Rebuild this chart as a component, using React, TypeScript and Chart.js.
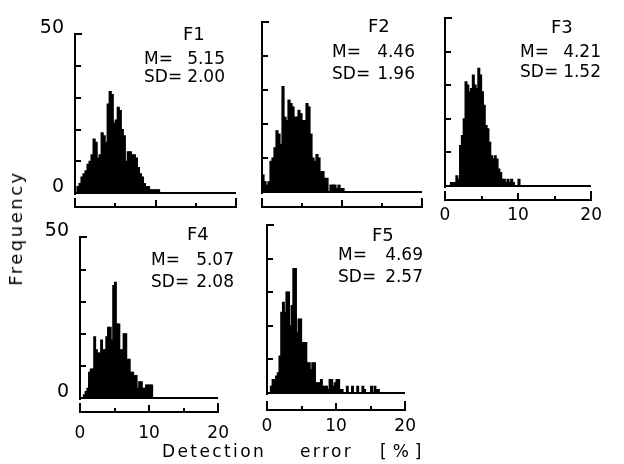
import React, { useEffect, useRef } from 'react';
import { Chart, registerables } from 'chart.js';

Chart.register(...registerables);

// ---------- data ----------
const BIN_WIDTH = 0.25; // histogram bin width in %
const PANEL_NAMES = ['F1', 'F2', 'F3', 'F4', 'F5'];
const MEANS = ['5.15', '4.46', '4.21', '5.07', '4.69'];
const SDS = ['2.00', '1.96', '1.52', '2.08', '2.57'];

// counts per 0.25 % bin, starting at 0
const F1_COUNTS = [0, 2, 3, 5, 6, 7, 9, 10, 12, 17, 16, 11, 12, 19, 18, 16, 28, 32, 31, 22, 23, 27, 26, 20, 18, 10, 13, 13, 12, 12, 11, 8, 6, 5, 3, 2, 2, 1, 1, 1, 1, 1];
const F2_COUNTS = [5, 3, 2, 3, 9, 10, 13, 18, 17, 14, 31, 22, 21, 27, 26, 25, 22, 22, 24, 23, 21, 21, 26, 25, 17, 10, 9, 11, 10, 6, 6, 4, 4, 0, 2, 2, 2, 1, 2, 1, 1];
const F3_COUNTS = [0, 0, 0, 1, 1, 1, 3, 2, 12, 15, 20, 31, 30, 28, 29, 33, 30, 29, 35, 33, 28, 24, 18, 17, 13, 9, 8, 9, 8, 5, 4, 2, 2, 1, 2, 1, 2, 1, 0, 0, 2];
const F4_COUNTS = [0, 0, 1, 2, 3, 8, 9, 9, 19, 15, 14, 14, 18, 15, 15, 19, 22, 22, 18, 35, 36, 23, 23, 15, 15, 20, 20, 12, 12, 8, 8, 7, 7, 3, 5, 5, 3, 3, 4, 4, 4, 4];
const F5_COUNTS = [0, 0, 2, 4, 4, 5, 6, 11, 24, 27, 24, 30, 30, 20, 26, 37, 37, 18, 22, 22, 15, 15, 15, 9, 9, 7, 9, 9, 3, 3, 3, 4, 2, 2, 2, 1, 4, 4, 2, 3, 4, 4, 1, 1, 0, 0, 2, 0, 0, 2, 0, 0, 2, 0, 0, 2, 1, 0, 0, 0, 2, 0, 2, 1, 1];
const COUNTS = [F1_COUNTS, F2_COUNTS, F3_COUNTS, F4_COUNTS, F5_COUNTS];

const X_MIN = 0;
const X_MAX = 20;
const Y_MIN = 0;
const Y_MAX = 50;
const X_TICKS = [0, 5, 10, 15, 20];
const X_LABELS = [0, 10, 20];
const Y_TICKS = [10, 20, 30, 40];
const Y_LABELS = [0, 50];

// ---------- layout (style only) ----------
const FONT = 'DejaVu Sans';
const INK = '#000';
const PADL = 50, PADT = 15, PADR = 14, PADB = 45;

const LAYOUT = [
  { x0: 75, x20: 236, yTop: 27, yBase: 193, gap: 14, yLabels: true, xLabels: false, xPad: 19,
    title: [183, 27], left: 144, right: 225, mTop: 52, sdTop: 70 },
  { x0: 262, x20: 422, yTop: 22, yBase: 192, gap: 15, yLabels: false, xLabels: false, xPad: 19,
    title: [368, 19], left: 332, right: 415, mTop: 45, sdTop: 67 },
  { x0: 445, x20: 607, yTop: 18, yBase: 186, gap: 14, yLabels: false, xLabels: true, xPad: 19,
    title: [551, 20], left: 520, right: 601, mTop: 45, sdTop: 65 },
  { x0: 80, x20: 240, yTop: 230, yBase: 398, gap: 14, yLabels: true, xLabels: true, xPad: 25,
    title: [187, 227], left: 151, right: 234, mTop: 253, sdTop: 275 },
  { x0: 267, x20: 425, yTop: 225, yBase: 393, gap: 17, yLabels: false, xLabels: true, xPad: 23,
    title: [372, 228], left: 338, right: 423, mTop: 248, sdTop: 270 },
];

const bracketAxesPlugin = {
  id: 'bracketAxes',
  afterDatasetsDraw(chart: any, _args: any, opts: any) {
    const { ctx } = chart;
    const x = chart.scales.x;
    const y = chart.scales.y;
    const X0 = Math.round(x.getPixelForValue(X_MIN));
    const X1 = Math.round(x.getPixelForValue(X_MAX));
    const Yb = Math.round(y.getPixelForValue(Y_MIN));
    const Yt = Math.round(y.getPixelForValue(Y_MAX));
    ctx.save();
    ctx.strokeStyle = INK;
    ctx.lineWidth = 2;
    ctx.beginPath();
    // y axis with inward ticks
    ctx.moveTo(X0, Yt - 1);
    ctx.lineTo(X0, Yb + 2);
    ctx.moveTo(X0 - 1, Yt);
    ctx.lineTo(X0 + 7, Yt);
    Y_TICKS.forEach((v) => {
      const py = Math.round(y.getPixelForValue(v));
      ctx.moveTo(X0, py);
      ctx.lineTo(X0 + 6, py);
    });
    // histogram baseline
    ctx.moveTo(X0, Yb);
    ctx.lineTo(X1, Yb);
    // detached x axis bracket
    const yb = Yb + (opts.gap || 14);
    ctx.moveTo(X0 - 1, yb);
    ctx.lineTo(X1 + 1, yb);
    X_TICKS.forEach((v) => {
      const px = Math.round(x.getPixelForValue(v));
      const h = v === X_MIN || v === X_MAX ? 9 : v % 10 === 0 ? 7 : 4;
      ctx.moveTo(px, yb);
      ctx.lineTo(px, yb - h);
    });
    ctx.stroke();
    ctx.restore();
  },
};

function Panel({ idx }: { idx: number }) {
  const ref = useRef<HTMLCanvasElement>(null);
  const L = LAYOUT[idx];
  const width = L.x20 - L.x0 + PADL + PADR;
  const height = L.yBase - L.yTop + PADT + PADB;

  useEffect(() => {
    if (!ref.current) return;
    const data = COUNTS[idx].map((c, i) => ({ x: i * BIN_WIDTH + BIN_WIDTH / 2, y: c }));
    const chart = new Chart(ref.current, {
      type: 'bar',
      data: {
        datasets: [
          {
            data,
            backgroundColor: INK,
            borderWidth: 0,
            barPercentage: 1,
            categoryPercentage: 1,
            inflateAmount: 0.6,
          } as any,
        ],
      },
      options: {
        animation: false,
        responsive: false,
        maintainAspectRatio: false,
        layout: { padding: { left: 0, right: PADR, top: PADT, bottom: 0 } },
        plugins: {
          legend: { display: false },
          tooltip: { enabled: false },
          bracketAxes: { gap: L.gap },
        } as any,
        scales: {
          x: {
            type: 'linear',
            min: X_MIN,
            max: X_MAX,
            offset: false,
            grid: { display: false, drawTicks: false },
            border: { display: false },
            afterBuildTicks: (s: any) => {
              s.ticks = X_LABELS.map((v) => ({ value: v }));
            },
            afterFit: (s: any) => {
              s.height = PADB;
            },
            ticks: {
              display: L.xLabels,
              padding: L.xPad,
              maxRotation: 0,
              autoSkip: false,
              color: INK,
              font: { family: FONT, size: 17 },
            },
          } as any,
          y: {
            type: 'linear',
            min: Y_MIN,
            max: Y_MAX,
            grid: { display: false, drawTicks: false },
            border: { display: false },
            afterBuildTicks: (s: any) => {
              s.ticks = Y_LABELS.map((v) => ({ value: v }));
            },
            afterFit: (s: any) => {
              s.width = PADL;
            },
            ticks: {
              display: L.yLabels,
              padding: 11,
              labelOffset: -6,
              color: INK,
              font: { family: FONT, size: 19 },
            },
          } as any,
        },
      },
      plugins: [bracketAxesPlugin],
    });
    return () => chart.destroy();
  }, [idx]);

  return (
    <canvas
      ref={ref}
      width={width}
      height={height}
      style={{ position: 'absolute', left: L.x0 - PADL, top: L.yTop - PADT, width, height }}
    />
  );
}

function Annotation({ idx }: { idx: number }) {
  const L = LAYOUT[idx];
  const line = { position: 'absolute' as const, fontSize: 17, lineHeight: '17px', color: INK, display: 'flex', justifyContent: 'space-between', left: L.left, width: L.right - L.left, whiteSpace: 'nowrap' as const };
  return (
    <>
      <div style={{ position: 'absolute', left: L.title[0], top: L.title[1] - 2, fontSize: 18, lineHeight: '18px', color: INK }}>
        {PANEL_NAMES[idx]}
      </div>
      <div style={{ ...line, top: L.mTop - 2 }}>
        <span>M=</span>
        <span>{MEANS[idx]}</span>
      </div>
      <div style={{ ...line, top: L.sdTop - 2 }}>
        <span>SD=</span>
        <span>{SDS[idx]}</span>
      </div>
    </>
  );
}

export default function App() {
  return (
    <div style={{ position: 'absolute', left: 0, top: 0, width: 624, height: 464, background: '#fff', fontFamily: FONT, overflow: 'hidden' }}>
      {LAYOUT.map((_, i) => (
        <Panel key={'p' + i} idx={i} />
      ))}
      {LAYOUT.map((_, i) => (
        <Annotation key={'a' + i} idx={i} />
      ))}
      <div
        style={{
          position: 'absolute',
          left: 16,
          top: 228,
          transform: 'translate(-50%, -50%) rotate(-90deg)',
          fontSize: 18,
          lineHeight: '18px',
          letterSpacing: 2.5,
          color: INK,
          whiteSpace: 'nowrap',
        }}
      >
        Frequency
      </div>
      <div style={{ position: 'absolute', left: 162, top: 443, fontSize: 17, lineHeight: '17px', letterSpacing: 2.4, color: INK }}>
        Detection
      </div>
      <div style={{ position: 'absolute', left: 300, top: 443, fontSize: 17, lineHeight: '17px', letterSpacing: 2.4, color: INK }}>
        error
      </div>
      <div style={{ position: 'absolute', left: 380, top: 443, fontSize: 17, lineHeight: '17px', letterSpacing: 6, color: INK }}>
        [%]
      </div>
    </div>
  );
}
